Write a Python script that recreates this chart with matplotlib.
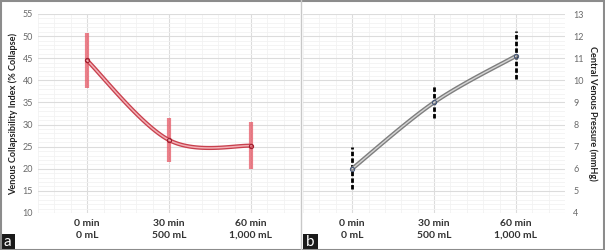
import matplotlib
matplotlib.use("Agg")
import matplotlib.pyplot as plt
import numpy as np
from matplotlib.patches import Rectangle
from matplotlib.lines import Line2D
from matplotlib.ticker import MultipleLocator

plt.rcParams["font.family"] = ["Lato", "DejaVu Sans"]

categories = ["0 min\n0 mL", "30 min\n500 mL", "60 min\n1,000 mL"]

vci_mean = [44.5, 26.5, 25.2]
vci_low = [38.3, 21.6, 20.0]
vci_high = [50.7, 31.4, 30.5]

cvp_mean = [6.0, 9.0, 11.1]
cvp_low = [5.1, 8.3, 10.05]
cvp_high = [7.0, 9.75, 12.25]


def smooth(xs, ys, n=40):
    # catmull-rom style smoothing, similar to a spreadsheet "smoothed line"
    xs = np.asarray(xs, float)
    ys = np.asarray(ys, float)
    px = np.concatenate([[xs[0]], xs, [xs[-1]]])
    py = np.concatenate([[ys[0]], ys, [ys[-1]]])
    outx, outy = [], []
    for i in range(1, len(px) - 2):
        t = np.linspace(0, 1, n)
        for arr, out in ((px, outx), (py, outy)):
            p0, p1, p2, p3 = arr[i - 1], arr[i], arr[i + 1], arr[i + 2]
            m1 = (p2 - p0) / 2
            m2 = (p3 - p1) / 2
            h00 = 2 * t**3 - 3 * t**2 + 1
            h10 = t**3 - 2 * t**2 + t
            h01 = -2 * t**3 + 3 * t**2
            h11 = t**3 - t**2
            out.extend(h00 * p1 + h10 * m1 + h01 * p2 + h11 * m2)
    return np.array(outx), np.array(outy)


def style_axes(ax, ylim, major, minor):
    ax.set_xlim(-0.6, 2.6)
    ax.set_ylim(*ylim)
    ax.set_xticks(range(len(categories)))
    ax.set_xticklabels(categories, fontsize=7.5, color="#333333", linespacing=1.5,
                       fontweight="bold")
    ax.xaxis.set_minor_locator(MultipleLocator(0.2))
    ax.yaxis.set_major_locator(MultipleLocator(major))
    ax.yaxis.set_minor_locator(MultipleLocator(minor))
    ax.grid(which="major", color="#dcdcdc", lw=0.8)
    ax.grid(which="minor", color="#f2f2f2", lw=0.6)
    ax.set_axisbelow(True)
    ax.tick_params(which="both", length=0)
    ax.tick_params(axis="y", labelsize=6.5, colors="#6a6a6a")
    ax.tick_params(axis="x", pad=4)
    for s in ax.spines.values():
        s.set_visible(False)


fig = plt.figure(figsize=(6.05, 2.5), dpi=100)
x = np.arange(len(categories))

# panel a
ax1 = fig.add_axes([38 / 605, 37 / 250, 262 / 605, 199 / 250])
style_axes(ax1, (10, 55), 5, 1)
ax1.errorbar(x, vci_mean,
             yerr=[np.subtract(vci_mean, vci_low), np.subtract(vci_high, vci_mean)],
             fmt="none", ecolor="#e5505e", elinewidth=3.0, alpha=0.72, capsize=0, zorder=3)
sx, sy = smooth(x, vci_mean)
ax1.plot(sx, sy, color="#c8414e", lw=3.0, solid_capstyle="round", zorder=4)
ax1.plot(sx, sy, color="#f2b0b6", lw=1.1, zorder=5)
ax1.plot(x, vci_mean, "o", ms=3, mfc="none", mec="#a02030", mew=0.8, zorder=6)
ax1.set_ylabel("Venous Collapsibility Index (% Collapse)", fontsize=6.6, color="#222222",
               fontweight="bold", labelpad=3)

# panel b
ax2 = fig.add_axes([303 / 605, 37 / 250, 262 / 605, 199 / 250])
style_axes(ax2, (4, 13), 1, 0.2)
ax2.yaxis.tick_right()
ax2.yaxis.set_label_position("right")
ax2.tick_params(axis="y", pad=6)
err = ax2.errorbar(x, cvp_mean,
                   yerr=[np.subtract(cvp_mean, cvp_low), np.subtract(cvp_high, cvp_mean)],
                   fmt="none", ecolor="black", elinewidth=2.0, capsize=0, zorder=3)
for lc in err[2]:
    lc.set_linestyle((0, (1.6, 0.8)))
sx, sy = smooth(x, cvp_mean)
ax2.plot(sx, sy, color="#7f7f7f", lw=3.0, solid_capstyle="round", zorder=4)
ax2.plot(sx, sy, color="#d4d4d4", lw=1.0, zorder=5)
ax2.plot(x, cvp_mean, "o", ms=3, mfc="none", mec="#4a5a7a", mew=0.8, zorder=6)
ax2.set_ylabel("Central Venous Pressure (mmHg)", fontsize=6.6, color="#222222",
               fontweight="bold", rotation=270, labelpad=10)

# panel letters
for xl, letter in ((0, "a"), (303, "b")):
    fig.patches.append(Rectangle((xl / 605, 0), 15 / 605, 16 / 250, transform=fig.transFigure,
                                 facecolor="#1a1a1a", edgecolor="none"))
    fig.text((xl + 7.5) / 605, 7.5 / 250, letter, color="white", fontsize=11,
             ha="center", va="center")

# divider and frame
fig.lines.append(Line2D([301 / 605, 301 / 605], [0, 1], transform=fig.transFigure,
                        color="#c8c8c8", lw=1))
fig.patches.append(Rectangle((0.001, 0.002), 0.997, 0.995, transform=fig.transFigure,
                             facecolor="none", edgecolor="#8c8c8c", lw=1.5))

fig.savefig("out.png", dpi=100)
